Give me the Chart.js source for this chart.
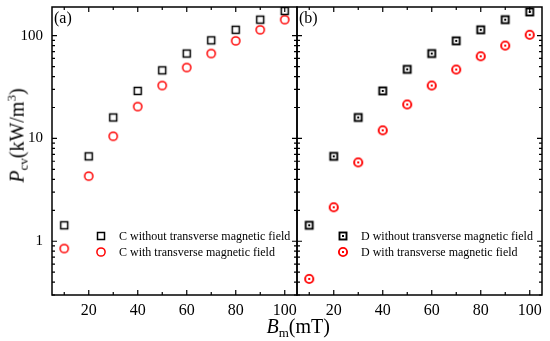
<!DOCTYPE html>
<html>
<head>
<meta charset="utf-8">
<script src="https://cdn.jsdelivr.net/npm/chart.js@4"></script>
<style>
  body { margin: 0; background: #fff; }
  #wrap { position: relative; width: 550px; height: 341px; font-family: "Liberation Serif", "Times New Roman", serif; }
  #wrap canvas { position: absolute; left: 0; top: 0; }
  .title { position: absolute; font-size: 20px; color: #000; white-space: nowrap; line-height: 1; }
  .title sub { font-size: 13px; vertical-align: -4px; }
  .title sup { font-size: 13px; vertical-align: 8px; }
</style>
</head>
<body>
<div id="wrap">
  <canvas id="chartA" width="550" height="341"></canvas>
  <canvas id="chartB" width="550" height="341"></canvas>
  <div class="title" id="ytitle"><i>P</i><sub>cv</sub>(kW/m<sup>3</sup>)</div>
  <div class="title" id="xtitle"><i>B</i><sub>m</sub>(mT)</div>
</div>
<script>
// Data
const bm = [10, 20, 30, 40, 50, 60, 70, 80, 90, 100];
const cWithout = [1.43, 6.7, 16, 29, 46, 67, 90, 114, 143, 174];
const cWith = [0.85, 4.3, 10.5, 20.4, 32.7, 49, 67, 89, 114, 143];
const dWithout = [1.43, 6.7, 16, 29, 47, 67, 89, 114, 143, 170];
const dWith = [0.43, 2.14, 5.85, 12, 21.4, 32.7, 46.8, 63, 80, 102];
const xTicks = [20, 40, 60, 80, 100];
const yTicks = [1, 10, 100];

// Marker images (plain and with a centre dot)
function marker(shape, color, dot) {
    const c = document.createElement("canvas");
    c.width = 14; c.height = 14;
    const g = c.getContext("2d");
    g.strokeStyle = color;
    g.lineWidth = dot ? 1.9 : 1.5;
    if (shape === "square") {
        g.strokeRect(3.5, 3.5, 7, 7);
    } else {
        g.beginPath();
        g.arc(7, 7, 4.1, 0, Math.PI * 2);
        g.stroke();
    }
    if (dot) {
        g.fillStyle = color;
        g.fillRect(6, 6, 2, 2);
    }
    return c;
}

function points(ys) {
    return bm.map((x, i) => ({ x: x, y: ys[i] }));
}

// Frame, inward ticks, panel label and legend
const framePlugin = {
    id: "frame",
    afterDraw(chart, args, opts) {
        const ctx = chart.ctx;
        const a = chart.chartArea;
        const xs = chart.scales.x, ys = chart.scales.y;
        ctx.save();
        ctx.strokeStyle = "#000";
        ctx.lineWidth = 1.5;
        ctx.strokeRect(a.left, a.top, a.right - a.left, a.bottom - a.top);
        ctx.lineWidth = 1.2;
        ctx.beginPath();
        for (let v = 10; v <= 100; v += 10) {
            const px = xs.getPixelForValue(v);
            const len = v % 20 === 0 ? 5 : 3;
            ctx.moveTo(px, a.bottom); ctx.lineTo(px, a.bottom - len);
            ctx.moveTo(px, a.top); ctx.lineTo(px, a.top + len);
        }
        for (let d = 0.1; d <= 100; d *= 10) {
            for (let m = 1; m <= 9; m++) {
                const v = d * m;
                if (v < ys.min || v > ys.max) continue;
                const py = ys.getPixelForValue(v);
                const len = m === 1 ? 5 : 3;
                ctx.moveTo(a.left, py); ctx.lineTo(a.left + len, py);
                ctx.moveTo(a.right, py); ctx.lineTo(a.right - len, py);
            }
        }
        ctx.stroke();

        ctx.fillStyle = "#000";
        ctx.font = "16px 'Liberation Serif'";
        ctx.textBaseline = "middle";
        ctx.fillText(opts.panel, a.left + 2, a.top + 12);

        ctx.font = "12px 'Liberation Serif'";
        chart.data.datasets.forEach((ds, i) => {
            const y = opts.legendY + i * 16;
            ctx.drawImage(ds.pointStyle, opts.legendX - 7, y - 7);
            ctx.fillText(ds.label, opts.legendX + 18, y + 1);
        });
        ctx.restore();
    }
};

function makeChart(id, sets, cfg) {
    return new Chart(document.getElementById(id), {
        type: "scatter",
        data: {
            datasets: sets.map(s => ({
                label: s.label,
                data: points(s.values),
                pointStyle: s.style,
                pointRadius: 5,
                pointHoverRadius: 5
            }))
        },
        options: {
            responsive: false,
            animation: false,
            events: [],
            layout: { padding: { left: 0, right: cfg.padRight, top: 7, bottom: 0 } },
            plugins: {
                legend: { display: false },
                tooltip: { enabled: false },
                frame: { panel: cfg.panel, legendX: cfg.legendX, legendY: 236 }
            },
            scales: {
                x: {
                    type: "linear",
                    min: 5, max: 105,
                    grid: { display: false, drawTicks: false },
                    border: { display: false },
                    afterBuildTicks: s => { s.ticks = xTicks.map(v => ({ value: v })); },
                    afterFit: s => { s.height = 46; s.paddingLeft = 0; s.paddingRight = 0; },
                    ticks: {
                        color: "#000",
                        padding: 6,
                        font: { family: "Liberation Serif", size: 16 },
                        callback: v => String(v)
                    }
                },
                y: {
                    type: "logarithmic",
                    min: 0.3, max: 190,
                    grid: { display: false, drawTicks: false },
                    border: { display: false },
                    afterBuildTicks: s => { s.ticks = yTicks.map(v => ({ value: v })); },
                    afterFit: s => { s.width = cfg.yWidth; s.paddingTop = 0; s.paddingBottom = 0; },
                    ticks: {
                        display: cfg.yLabels,
                        color: "#000",
                        padding: 9,
                        font: { family: "Liberation Serif", size: 15 },
                        callback: v => String(v)
                    }
                }
            }
        },
        plugins: [framePlugin]
    });
}

makeChart("chartA", [
    { label: "C without transverse magnetic field", values: cWithout, style: marker("square", "#000", false) },
    { label: "C with transverse magnetic field", values: cWith, style: marker("circle", "#ff0000", false) }
], { panel: "(a)", padRight: 253, yWidth: 52, yLabels: true, legendX: 101 });

makeChart("chartB", [
    { label: "D without transverse magnetic field", values: dWithout, style: marker("square", "#000", true) },
    { label: "D with transverse magnetic field", values: dWith, style: marker("circle", "#ff0000", true) }
], { panel: "(b)", padRight: 8, yWidth: 297, yLabels: false, legendX: 343 });

// Axis titles placed against the panels
const yt = document.getElementById("ytitle");
yt.style.left = (17 - yt.offsetWidth / 2) + "px";
yt.style.top = (135 - yt.offsetHeight / 2) + "px";
yt.style.transform = "rotate(-90deg)";
const xt = document.getElementById("xtitle");
xt.style.left = (298 - xt.offsetWidth / 2) + "px";
xt.style.top = "316px";
</script>
</body>
</html>
